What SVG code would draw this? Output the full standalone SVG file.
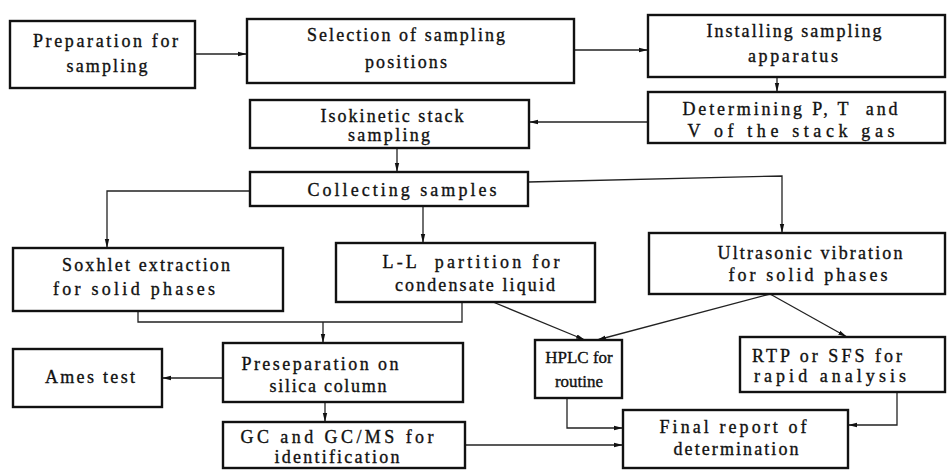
<svg xmlns="http://www.w3.org/2000/svg" width="949" height="475" viewBox="0 0 949 475">
<style>
.box{fill:#fff;stroke:#111;stroke-width:2.4}
.t{font-family:'Liberation Serif','DejaVu Serif',serif;font-size:18px;fill:#111;text-anchor:middle;stroke:#111;stroke-width:0.35}
.c{fill:none;stroke:#222;stroke-width:1.3}
</style>
<defs>
<marker id="ah" markerUnits="userSpaceOnUse" markerWidth="10" markerHeight="6" refX="9" refY="3" orient="auto">
<path d="M0,0.8 L9,3 L0,5.2 Z" fill="#111"/>
</marker>
</defs>
<rect width="949" height="475" fill="#fff"/>
<g id="connectors">
<path class="c" d="M195,54 H247" marker-end="url(#ah)"/>
<path class="c" d="M574,50 H648" marker-end="url(#ah)"/>
<path class="c" d="M777,77 V92" marker-end="url(#ah)"/>
<path class="c" d="M648,122 H529" marker-end="url(#ah)"/>
<path class="c" d="M397,148 V172" marker-end="url(#ah)"/>
<path class="c" d="M250,191 H107 V248" marker-end="url(#ah)"/>
<path class="c" d="M423,206 V243" marker-end="url(#ah)"/>
<path class="c" d="M528,182 L782,176 V233" marker-end="url(#ah)"/>
<path class="c" d="M138,311 V322 H462 V302"/>
<path class="c" d="M323,322 V343" marker-end="url(#ah)"/>
<path class="c" d="M493,302 L585,340" marker-end="url(#ah)"/>
<path class="c" d="M770,294 L597,340" marker-end="url(#ah)"/>
<path class="c" d="M770,294 L847,337" marker-end="url(#ah)"/>
<path class="c" d="M223,378 H162" marker-end="url(#ah)"/>
<path class="c" d="M325,402 V422" marker-end="url(#ah)"/>
<path class="c" d="M567,398 V428 H623" marker-end="url(#ah)"/>
<path class="c" d="M465,445 H623" marker-end="url(#ah)"/>
<path class="c" d="M897,392 V425 H848" marker-end="url(#ah)"/>
</g>
<g id="n1"><rect class="box" x="10" y="21" width="185" height="67"/>
<text class="t" x="105.5" y="47" textLength="145" lengthAdjust="spacing">Preparation for</text>
<text class="t" x="107" y="72" textLength="81" lengthAdjust="spacing">sampling</text></g>
<g id="n2"><rect class="box" x="247" y="19" width="327" height="64"/>
<text class="t" x="406" y="41" textLength="198" lengthAdjust="spacing">Selection of sampling</text>
<text class="t" x="406" y="68" textLength="82" lengthAdjust="spacing">positions</text></g>
<g id="n3"><rect class="box" x="648" y="15" width="297" height="62"/>
<text class="t" x="794" y="37" textLength="175" lengthAdjust="spacing">Installing sampling</text>
<text class="t" x="793" y="62" textLength="90" lengthAdjust="spacing">apparatus</text></g>
<g id="n4"><rect class="box" x="648" y="92" width="297" height="51"/>
<text class="t" x="790" y="115" textLength="215" lengthAdjust="spacing" xml:space="preserve">Determining P, T  and</text>
<text class="t" x="791" y="137" textLength="207" lengthAdjust="spacing">V of the stack gas</text></g>
<g id="n5"><rect class="box" x="250" y="100" width="279" height="48"/>
<text class="t" x="392" y="122" textLength="143" lengthAdjust="spacing">Isokinetic stack</text>
<text class="t" x="389" y="141" textLength="82" lengthAdjust="spacing">sampling</text></g>
<g id="n6"><rect class="box" x="250" y="172" width="278" height="34"/>
<text class="t" x="402" y="196" textLength="189" lengthAdjust="spacing">Collecting samples</text></g>
<g id="n7"><rect class="box" x="13" y="248" width="270" height="63"/>
<text class="t" x="146" y="271" textLength="168" lengthAdjust="spacing">Soxhlet extraction</text>
<text class="t" x="134" y="295" textLength="162" lengthAdjust="spacing">for solid phases</text></g>
<g id="n8"><rect class="box" x="336" y="243" width="259" height="59"/>
<text class="t" x="471" y="268" textLength="177" lengthAdjust="spacing" xml:space="preserve">L-L  partition for</text>
<text class="t" x="475" y="291" textLength="160" lengthAdjust="spacing">condensate liquid</text></g>
<g id="n9"><rect class="box" x="649" y="233" width="296" height="61"/>
<text class="t" x="810" y="259" textLength="185" lengthAdjust="spacing">Ultrasonic vibration</text>
<text class="t" x="808" y="281" textLength="159" lengthAdjust="spacing">for solid phases</text></g>
<g id="n10"><rect class="box" x="13" y="349" width="149" height="58"/>
<text class="t" x="90" y="383" textLength="90" lengthAdjust="spacing">Ames test</text></g>
<g id="n11"><rect class="box" x="223" y="343" width="240" height="59"/>
<text class="t" x="320" y="370" textLength="157" lengthAdjust="spacing">Preseparation on</text>
<text class="t" x="328" y="392" textLength="117" lengthAdjust="spacing">silica column</text></g>
<g id="n12"><rect class="box" x="223" y="422" width="242" height="46"/>
<text class="t" x="337" y="443" textLength="193" lengthAdjust="spacing">GC and GC/MS for</text>
<text class="t" x="337" y="463" textLength="125" lengthAdjust="spacing">identification</text></g>
<g id="n13"><rect class="box" x="535" y="340" width="87" height="58"/>
<text class="t" x="579" y="363" style="font-size:17px">HPLC for</text>
<text class="t" x="579" y="387" style="font-size:17px">routine</text></g>
<g id="n14"><rect class="box" x="740" y="337" width="205" height="55"/>
<text class="t" x="827" y="362" textLength="150" lengthAdjust="spacing">RTP or SFS for</text>
<text class="t" x="830" y="382" textLength="152" lengthAdjust="spacing">rapid analysis</text></g>
<g id="n15"><rect class="box" x="623" y="410" width="225" height="58"/>
<text class="t" x="733" y="433" textLength="147" lengthAdjust="spacing">Final report of</text>
<text class="t" x="736" y="455" textLength="125" lengthAdjust="spacing">determination</text></g>
</svg>
